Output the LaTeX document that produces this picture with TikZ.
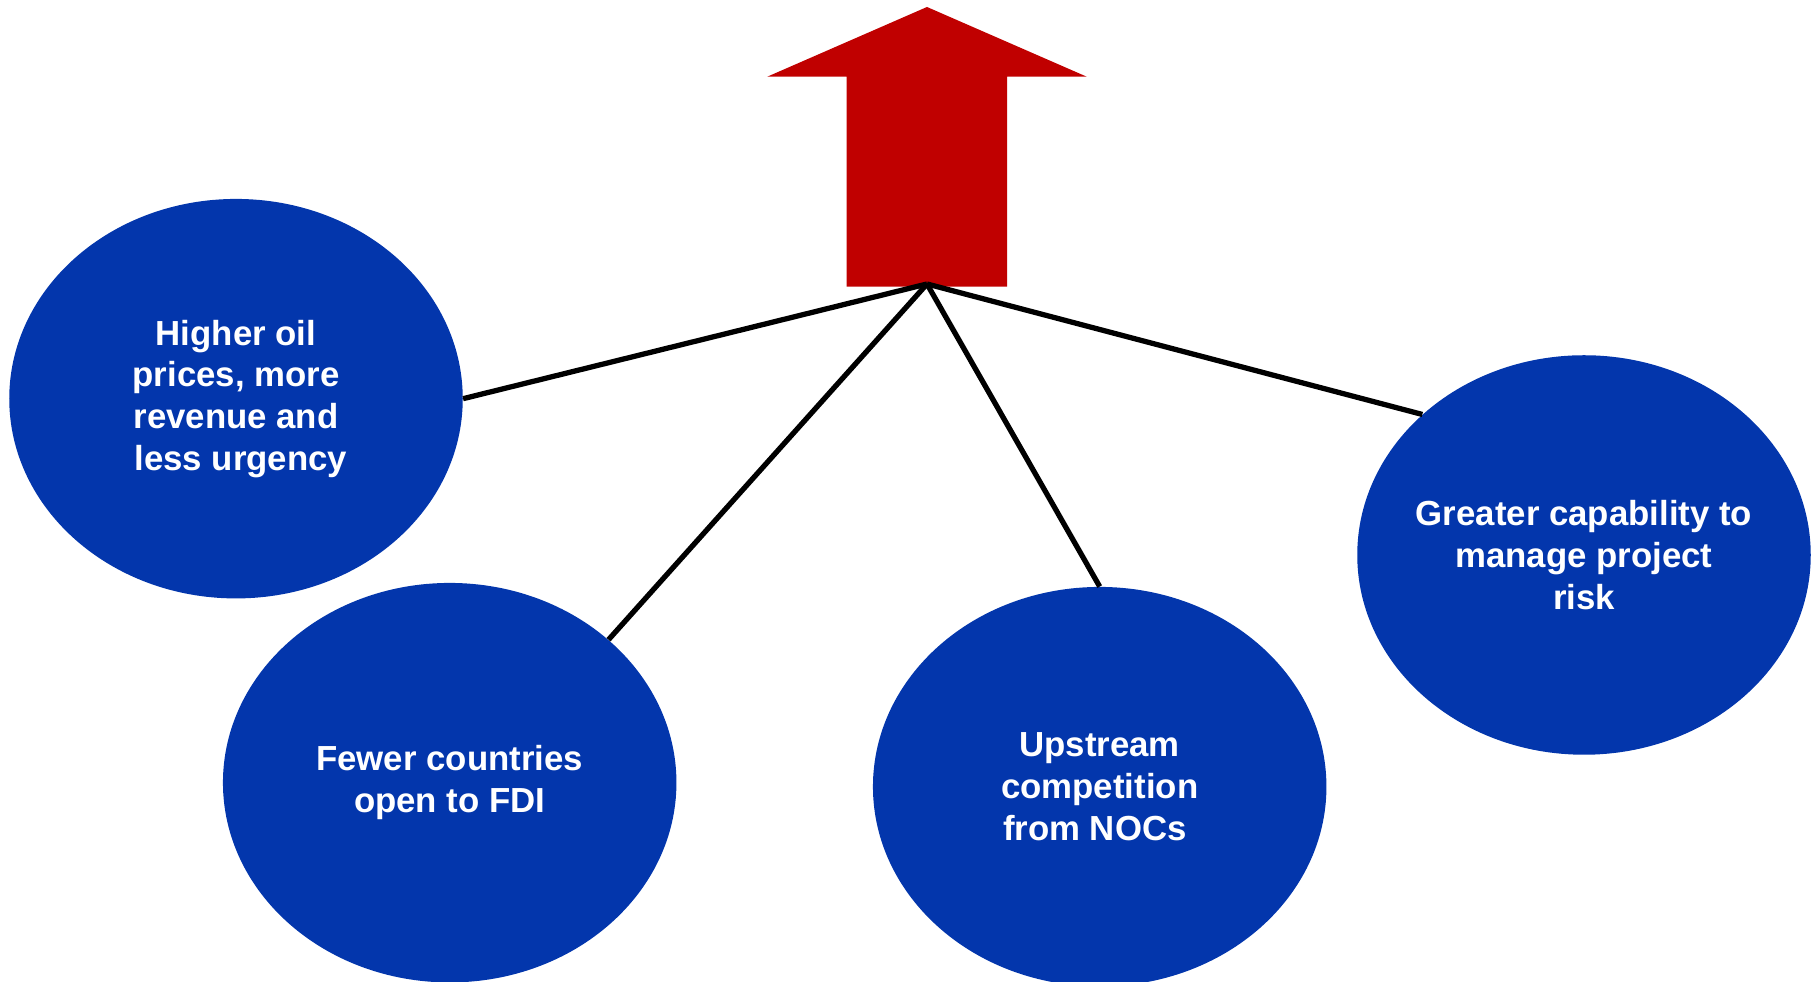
\documentclass[tikz,border=0pt]{standalone}
\usepackage{fontspec}
\setmainfont{Liberation Sans}
\usetikzlibrary{calc,positioning,shapes.geometric}
\definecolor{bubbleblue}{RGB}{3,54,172}
\definecolor{arrowred}{RGB}{192,0,0}

\begin{document}
\begin{tikzpicture}[
  bubble/.style={ellipse, fill=bubbleblue, minimum width=9.07cm, minimum height=7.99cm, inner sep=0pt},
  bubble text/.style={text=white, align=center, font=\fontsize{19.8}{23.7}\selectfont\bfseries},
  link/.style={line width=3pt, black},
  ]
  \useasboundingbox (0,0) rectangle (36.36,19.64);

  % rising arrow
  \fill[arrowred] (18.54,19.50) -- (21.734,18.106) -- (20.14,18.106) -- (20.14,13.906)
    -- (16.934,13.906) -- (16.934,18.106) -- (15.346,18.106) -- cycle;
  \coordinate (hub) at (18.54,13.96);

  \node (oil) [bubble] at (4.72,11.666) {};
  \node (fdi) [bubble] at (8.994,3.986) {};
  \node (noc) [bubble] at (21.994,3.906) {};
  \node (risk) [bubble] at (31.68,8.54) {};

  \node (oil_txt) [bubble text] at (oil) {Higher oil\\prices, more\\revenue and\\\ less urgency};
  \node (fdi_txt) [bubble text] at (fdi) {Fewer countries\\open to FDI\ };
  \node (noc_txt) [bubble text] at (noc) {Upstream\\competition\\from NOCs\ \ };
  \node (risk_txt) [bubble text] at (risk) {Greater capability to\\manage project\\risk\ };

  \foreach \e/\a in {oil/east, fdi/42, noc/north, risk/139}
    \draw[link] (hub) -- (\e.\a);

\end{tikzpicture}
\end{document}
